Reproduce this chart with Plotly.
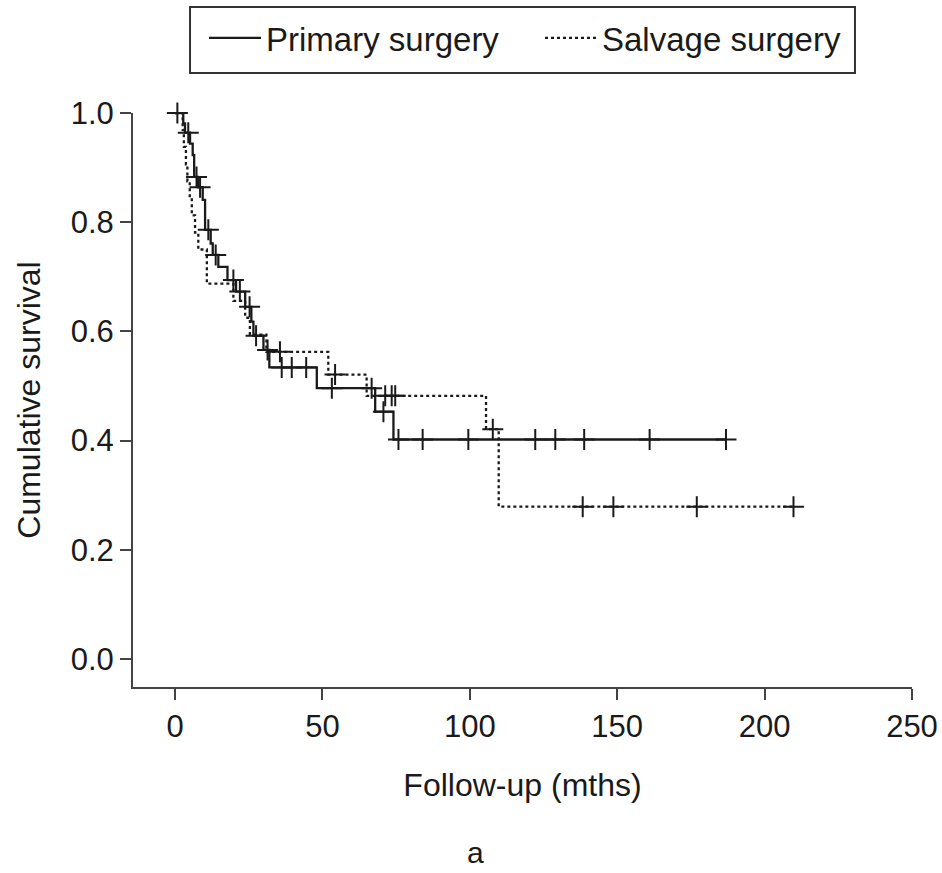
import plotly.graph_objects as go

# Primary surgery: step times (months) and survival after each step
prim_t = [0, 2.8, 3.4, 5.1, 6.0, 6.5, 7.8, 9.4, 10.2, 12.1, 12.8, 14.7, 17.8, 20.7,
          23.8, 25.9, 26.6, 30.0, 32.0, 48.1, 67.9, 74.1, 187.0]
prim_s = [1.0, 0.981, 0.964, 0.944, 0.923, 0.883, 0.864, 0.841, 0.786, 0.761, 0.740,
          0.718, 0.694, 0.673, 0.645, 0.618, 0.592, 0.566, 0.534, 0.496, 0.453, 0.402, 0.402]
prim_cens_t = [0.8, 4.5, 7.3, 8.5, 11.3, 13.8, 19.8, 22.0, 25.3, 27.5, 31.4, 36.2, 39.6,
               44.5, 53.2, 66.7, 70.7, 75.8, 84.0, 99.5, 122.2, 129.0, 138.8, 161.0, 186.9]
prim_cens_s = [1.0, 0.964, 0.883, 0.864, 0.786, 0.740, 0.694, 0.673, 0.645, 0.592, 0.566,
               0.534, 0.534, 0.534, 0.496, 0.496, 0.453, 0.402, 0.402, 0.402, 0.402, 0.402,
               0.402, 0.402, 0.402]

# Salvage surgery
salv_t = [0, 2.6, 3.0, 3.7, 4.2, 5.0, 5.7, 6.8, 7.9, 10.8, 19.8, 23.8, 25.4, 31.0,
          52.0, 65.0, 105.5, 109.8, 209.8]
salv_s = [1.0, 0.969, 0.938, 0.906, 0.875, 0.844, 0.8125, 0.781, 0.75, 0.6875, 0.656,
          0.625, 0.594, 0.5625, 0.521, 0.482, 0.421, 0.279, 0.279]
salv_cens_t = [35.6, 54.3, 71.3, 73.5, 74.7, 107.8, 138.3, 148.7, 177.0, 209.8]
salv_cens_s = [0.5625, 0.521, 0.482, 0.482, 0.482, 0.421, 0.279, 0.279, 0.279, 0.279]

x_ticks = [0, 50, 100, 150, 200, 250]
y_ticks = [0.0, 0.2, 0.4, 0.6, 0.8, 1.0]
y_tick_text = ["0.0", "0.2", "0.4", "0.6", "0.8", "1.0"]

FONT = "Liberation Sans, Arial, sans-serif"
INK = "#1a1a1a"
W, H = 942, 873

fig = go.Figure()
fig.add_trace(go.Scatter(x=prim_t, y=prim_s, mode="lines", line_shape="hv",
                         line=dict(color=INK, width=2.3), name="Primary surgery",
                         cliponaxis=False))
fig.add_trace(go.Scatter(x=salv_t, y=salv_s, mode="lines", line_shape="hv",
                         line=dict(color=INK, width=2.3, dash="dot"), name="Salvage surgery",
                         cliponaxis=False))
fig.add_trace(go.Scatter(x=prim_cens_t, y=prim_cens_s, mode="markers", showlegend=False,
                         marker=dict(symbol="cross-thin", size=15,
                                     line=dict(color=INK, width=2)),
                         cliponaxis=False))
fig.add_trace(go.Scatter(x=salv_cens_t, y=salv_cens_s, mode="markers", showlegend=False,
                         marker=dict(symbol="cross-thin", size=15,
                                     line=dict(color=INK, width=2)),
                         cliponaxis=False))

axis_common = dict(showgrid=False, zeroline=False, showline=True, linecolor="#444",
                   linewidth=2, ticks="outside", ticklen=11, tickwidth=2, tickcolor="#444",
                   automargin=False,
                   tickfont=dict(family=FONT, size=31, color=INK))

fig.update_xaxes(range=[-14.25, 250], tickvals=x_ticks, ticktext=[str(v) for v in x_ticks],
                 title=dict(text="Follow-up (mths)", font=dict(family=FONT, size=32, color=INK),
                            standoff=30),
                 **axis_common)
fig.update_yaxes(range=[-0.0513, 1.0], tickvals=y_ticks, ticktext=y_tick_text,
                 title=dict(text="Cumulative survival", font=dict(family=FONT, size=32, color=INK),
                            standoff=20),
                 **axis_common)

fig.add_annotation(text="a", xref="paper", yref="paper", x=0.4403, y=-0.2875,
                   xanchor="center", yanchor="middle",
                   showarrow=False, font=dict(family=FONT, size=30, color=INK))

# legend frame
fig.add_shape(type="rect", xref="paper", yref="paper",
              x0=0.0732, x1=0.9268, y0=1.0697, y1=1.1847,
              line=dict(color="#333", width=2), fillcolor="rgba(0,0,0,0)", layer="above")

fig.update_layout(
    template="none",
    width=W, height=H,
    margin=dict(l=133, r=30, t=113, b=186, pad=0),
    plot_bgcolor="white", paper_bgcolor="white",
    showlegend=True,
    legend=dict(orientation="h", xref="container", x=204 / W, xanchor="left",
                yref="container", y=1 - 10 / H, yanchor="top",
                borderwidth=0, bgcolor="rgba(0,0,0,0)",
                font=dict(family=FONT, size=33, color=INK),
                itemwidth=52, entrywidth=269, entrywidthmode="pixels",
                tracegroupgap=0),
)

fig.write_html("out.html", config={"displayModeBar": False},
               post_script="document.body.style.margin='0';document.body.style.overflow='hidden';")
